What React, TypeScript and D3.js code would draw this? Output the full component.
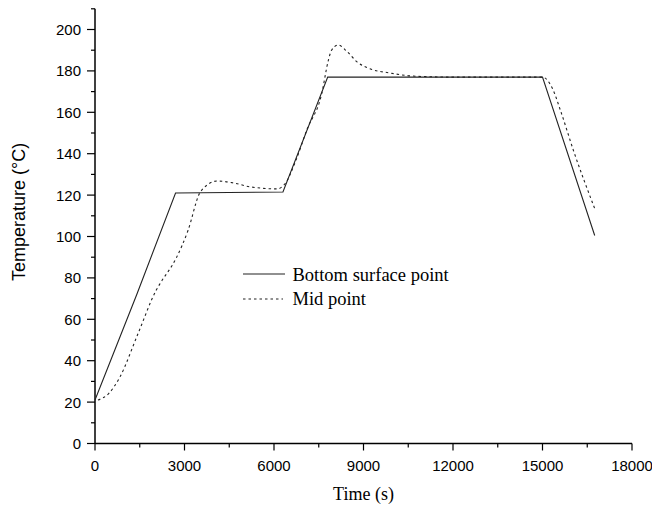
import React from "react";
import * as d3 from "d3";

const bottomT = [0, 1400, 2700, 6300, 7800, 15000, 16750];
const bottomV = [21, 72, 121, 121.5, 177, 177, 100.5];

const midT = [100, 450, 830, 1440, 2050, 2170, 2720, 3120, 3510, 3650, 4100, 4600, 5200, 6100, 6370, 6740, 7100, 7600, 7820, 7930, 8150, 8440, 8770, 9220, 9890, 10670, 12000, 15000, 15350, 15600, 16050, 16750];
const midV = [21, 24, 32, 53, 74, 77, 89.5, 103, 121, 123.5, 126.8, 126, 124, 123, 125.5, 137, 151.5, 169, 185, 190, 192.5, 189.5, 184.5, 181, 179, 177.5, 177, 177, 171, 161, 141, 113.5];

const xMajor = [0, 3000, 6000, 9000, 12000, 15000, 18000];
const xMinor = [1500, 4500, 7500, 10500, 13500, 16500];
const yMajor = [0, 20, 40, 60, 80, 100, 120, 140, 160, 180, 200];
const yMinor = [10, 30, 50, 70, 90, 110, 130, 150, 170, 190, 210];

const legendLabels = ["Bottom surface point", "Mid point"];

export default function App() {
  const x = d3.scaleLinear().domain([0, 18000]).range([95, 632]);
  const y = d3.scaleLinear().domain([0, 200]).range([443.5, 29.5]);

  const solidData = bottomT.map((t, i) => [t, bottomV[i]] as [number, number]);
  const midData = midT.map((t, i) => [t, midV[i]] as [number, number]);

  const solidLine = d3
    .line<[number, number]>()
    .x((d) => x(d[0]))
    .y((d) => y(d[1]));
  const midLine = d3
    .line<[number, number]>()
    .x((d) => x(d[0]))
    .y((d) => y(d[1]))
    .curve(d3.curveMonotoneX);

  const sans = "'Liberation Sans', Arial, sans-serif";
  const serif = "'Liberation Serif', 'Times New Roman', serif";

  return (
    <svg
      width={652}
      height={506}
      style={{ position: "absolute", left: 0, top: 0, background: "#fff" }}
    >
      {/* axes */}
      <line x1={x(0)} x2={x(18000)} y1={y(0)} y2={y(0)} stroke="#000" strokeWidth={1.5} />
      <line x1={x(0)} x2={x(0)} y1={y(0)} y2={y(210)} stroke="#000" strokeWidth={1.5} />
      {xMajor.map((t) => (
        <g key={"xm" + t}>
          <line x1={x(t)} x2={x(t)} y1={y(0)} y2={y(0) + 7} stroke="#000" strokeWidth={1.2} />
          <text x={x(t)} y={470.5} textAnchor="middle" fontFamily={sans} fontSize={15} fill="#000">
            {t}
          </text>
        </g>
      ))}
      {xMinor.map((t) => (
        <line key={"xn" + t} x1={x(t)} x2={x(t)} y1={y(0)} y2={y(0) + 4} stroke="#000" strokeWidth={1.2} />
      ))}
      {yMajor.map((v) => (
        <g key={"ym" + v}>
          <line x1={x(0) - 8} x2={x(0)} y1={y(v)} y2={y(v)} stroke="#000" strokeWidth={1.2} />
          <text x={81} y={y(v)} dy="0.36em" textAnchor="end" fontFamily={sans} fontSize={15} fill="#000">
            {v}
          </text>
        </g>
      ))}
      {yMinor.map((v) => (
        <line key={"yn" + v} x1={x(0) - 4} x2={x(0)} y1={y(v)} y2={y(v)} stroke="#000" strokeWidth={1.2} />
      ))}

      {/* axis titles */}
      <text
        transform="translate(25,212) rotate(-90)"
        textAnchor="middle"
        fontFamily={sans}
        fontSize={18}
        fill="#000"
      >
        Temperature (°C)
      </text>
      <text x={363.5} y={500} textAnchor="middle" fontFamily={serif} fontSize={18} fill="#000">
        Time (s)
      </text>

      {/* data */}
      <path d={solidLine(solidData) || ""} fill="none" stroke="#222" strokeWidth={1.1} />
      <path d={midLine(midData) || ""} fill="none" stroke="#222" strokeWidth={1.1} strokeDasharray="2.5,3" />

      {/* legend */}
      <line x1={243} x2={285} y1={274} y2={274} stroke="#222" strokeWidth={1.1} />
      <text x={292.5} y={280.5} fontFamily={serif} fontSize={18.5} fill="#000">
        {legendLabels[0]}
      </text>
      <line x1={243} x2={283} y1={299} y2={299} stroke="#222" strokeWidth={1.1} strokeDasharray="2.5,3" />
      <text x={292.5} y={304.5} fontFamily={serif} fontSize={18.5} fill="#000">
        {legendLabels[1]}
      </text>
    </svg>
  );
}
